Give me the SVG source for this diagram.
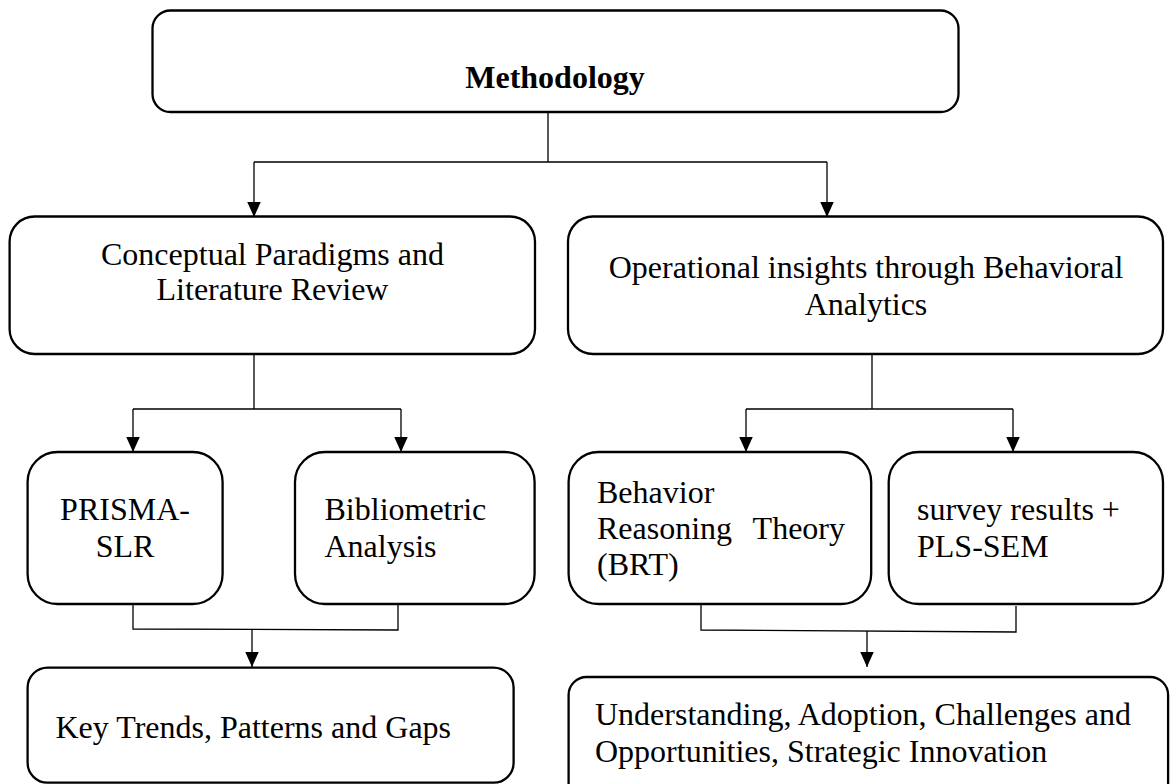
<svg xmlns="http://www.w3.org/2000/svg" width="1170" height="784" viewBox="0 0 1170 784">
  <style>
    .box { fill: #ffffff; stroke: #000000; stroke-width: 2.3; }
    .conn { fill: none; stroke: #000000; stroke-width: 1.3; }
    .t { font-family: "Liberation Serif", "Times New Roman", serif; font-size: 32px; fill: #000000; }
    .b { font-weight: bold; }
    .m { text-anchor: middle; }
  </style>
  <defs>
    <marker id="arrow" markerUnits="userSpaceOnUse" markerWidth="16" markerHeight="14" refX="15" refY="6.75" orient="auto">
      <path d="M0,0 L15,6.75 L0,13.5 Z" fill="#000000"/>
    </marker>
  </defs>
  <rect width="1170" height="784" fill="#ffffff"/>

  <g id="connectors">
    <path class="conn" d="M548,112 V162 M254,162 H827"/>
    <path class="conn" d="M254,162 V217" marker-end="url(#arrow)"/>
    <path class="conn" d="M827,162 V217" marker-end="url(#arrow)"/>

    <path class="conn" d="M254,354 V409 M133,409 H401"/>
    <path class="conn" d="M133,409 V452" marker-end="url(#arrow)"/>
    <path class="conn" d="M401,409 V452" marker-end="url(#arrow)"/>

    <path class="conn" d="M872,354 V409 M746,409 H1013"/>
    <path class="conn" d="M746,409 V452" marker-end="url(#arrow)"/>
    <path class="conn" d="M1013,409 V452" marker-end="url(#arrow)"/>

    <path class="conn" d="M133,604 V629 L398,630 V604"/>
    <path class="conn" d="M252,630 V667" marker-end="url(#arrow)"/>

    <path class="conn" d="M701,604 V630 L1016,632 V606"/>
    <path class="conn" d="M867,631 V667" marker-end="url(#arrow)"/>
  </g>

  <g id="methodology">
    <rect class="box" x="152.5" y="10.5" width="806" height="101.5" rx="18"/>
    <text class="t b m" x="555" y="88">Methodology</text>
  </g>

  <g id="conceptual">
    <rect class="box" x="9.6" y="216.5" width="525.4" height="137.5" rx="25"/>
    <text class="t m" x="272.5" y="265">Conceptual Paradigms and</text>
    <text class="t m" x="272.5" y="300">Literature Review</text>
  </g>

  <g id="operational">
    <rect class="box" x="568" y="216.5" width="595" height="137.5" rx="25"/>
    <text class="t m" x="866" y="278">Operational insights through Behavioral</text>
    <text class="t m" x="866" y="315">Analytics</text>
  </g>

  <g id="prisma">
    <rect class="box" x="27.6" y="452" width="195" height="152" rx="30"/>
    <text class="t m" x="125" y="520">PRISMA-</text>
    <text class="t m" x="125" y="557">SLR</text>
  </g>

  <g id="bibliometric">
    <rect class="box" x="295" y="452" width="239.6" height="152" rx="30"/>
    <text class="t" x="324.5" y="520">Bibliometric</text>
    <text class="t" x="324.5" y="557">Analysis</text>
  </g>

  <g id="brt">
    <rect class="box" x="568.6" y="452" width="302.6" height="152" rx="30"/>
    <text class="t" x="597" y="503">Behavior</text>
    <text class="t" x="597" y="539">Reasoning</text>
    <text class="t" x="845" y="539" text-anchor="end">Theory</text>
    <text class="t" x="597" y="575">(BRT)</text>
  </g>

  <g id="survey">
    <rect class="box" x="888.7" y="452" width="274.3" height="152" rx="30"/>
    <text class="t" x="917" y="520">survey results +</text>
    <text class="t" x="917" y="557">PLS-SEM</text>
  </g>

  <g id="key-trends">
    <rect class="box" x="27.6" y="667.7" width="486" height="115" rx="20"/>
    <text class="t" x="55.5" y="738">Key Trends, Patterns and Gaps</text>
  </g>

  <g id="outcomes">
    <rect class="box" x="568.6" y="677" width="599.5" height="125" rx="18"/>
    <text class="t" x="595" y="725">Understanding, Adoption, Challenges and</text>
    <text class="t" x="595" y="762">Opportunities, Strategic Innovation</text>
  </g>
</svg>
